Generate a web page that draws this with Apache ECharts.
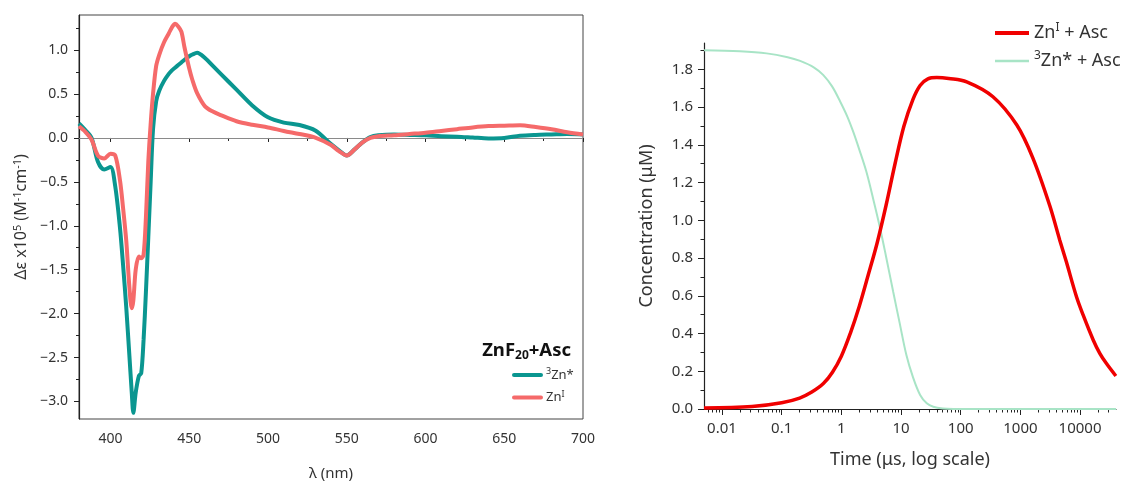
<!DOCTYPE html>
<html><head><meta charset="utf-8">
<script src="https://cdn.jsdelivr.net/npm/echarts@6/dist/echarts.min.js"></script>
<style>html,body{margin:0;padding:0;background:#fff}#c{width:1127px;height:482px}</style>
</head><body><div id="c"></div>
<script>
// ---- Left panel: difference spectra ----
const wavelength = [380,384,388,392,396,400,403,406,408,410,412,413.5,414.5,416,418,419.5,421,422.5,424,425.5,427,429,431,434,437,439,441,443,445,447,450,452,455,460,465,470,480,490,500,510,520,530,540,545,550,555,560,565,570,580,590,600,610,620,630,640,650,660,670,680,690,700];
const zn3Star    = [0.165,0.09,0.0,-0.27,-0.36,-0.33,-0.55,-1.02,-1.45,-1.93,-2.48,-2.9,-3.13,-2.9,-2.71,-2.68,-2.3,-1.75,-1.13,-0.5,0.1,0.42,0.54,0.65,0.73,0.77,0.8,0.83,0.86,0.89,0.93,0.95,0.97,0.91,0.82,0.73,0.55,0.37,0.235,0.175,0.147,0.085,-0.07,-0.14,-0.2,-0.13,-0.05,0.01,0.03,0.04,0.035,0.03,0.02,0.015,0.005,-0.005,0.0,0.025,0.035,0.04,0.045,0.04];
const znI        = [0.133,0.07,-0.02,-0.2,-0.235,-0.18,-0.2,-0.48,-0.8,-1.17,-1.7,-1.94,-1.85,-1.5,-1.35,-1.37,-1.33,-0.9,-0.27,0.16,0.5,0.82,0.95,1.09,1.19,1.26,1.3,1.27,1.21,1.03,0.79,0.66,0.51,0.36,0.3,0.26,0.19,0.15,0.12,0.08,0.045,0.005,-0.08,-0.15,-0.2,-0.13,-0.05,0.0,0.02,0.03,0.045,0.06,0.08,0.1,0.12,0.135,0.14,0.145,0.125,0.1,0.065,0.04];
const leftXMajor = [400,450,500,550,600,650,700];
const leftXMinor = [425,475,525,575,625,675];
const leftYMajor = [-3.0,-2.5,-2.0,-1.5,-1.0,-0.5,0.0,0.5,1.0];
const leftYMinor = [-2.75,-2.25,-1.75,-1.25,-0.75,-0.25,0.25,0.75,1.25];

// ---- Right panel: kinetics (log time) ----
const timeZnI   = [0.005,0.032,0.1,0.2,0.32,0.5,0.71,1,1.41,2,2.82,3.98,5.62,7.94,11.2,15.8,20.9,28.2,39.8,63,126,347,871,1620,3090,4570,5890,8710,11200,16600,21400,27500,39800];
const concZnI   = [0.005,0.013,0.033,0.058,0.09,0.135,0.195,0.28,0.40,0.545,0.71,0.88,1.08,1.30,1.50,1.64,1.715,1.75,1.757,1.752,1.734,1.655,1.505,1.33,1.08,0.895,0.78,0.595,0.5,0.366,0.295,0.242,0.175];
const time3Zn   = [0.005,0.02,0.056,0.126,0.204,0.35,0.5,0.7,0.955,1.26,1.58,2.0,2.63,3.5,4.47,5.6,7.41,9.5,12.3,15.8,20.9,27,34.7,50,76,200,40000];
const conc3Zn   = [1.902,1.896,1.885,1.865,1.845,1.81,1.77,1.71,1.63,1.55,1.47,1.375,1.257,1.1,0.957,0.81,0.62,0.455,0.286,0.17,0.074,0.03,0.012,0.003,0.0005,0,0];
const rightXMajor = [0.01,0.1,1,10,100,1000,10000];
const rightXMinor = [0.006,0.007,0.008,0.009,0.02,0.03,0.04,0.05,0.06,0.07,0.08,0.09,0.2,0.3,0.4,0.5,0.6,0.7,0.8,0.9,2,3,4,5,6,7,8,9,20,30,40,50,60,70,80,90,200,300,400,500,600,700,800,900,2000,3000,4000,5000,6000,7000,8000,9000,20000,30000];
const rightYMajor = [0.0,0.2,0.4,0.6,0.8,1.0,1.2,1.4,1.6,1.8];
const rightYMinor = [0.1,0.3,0.5,0.7,0.9,1.1,1.3,1.5,1.7,1.9];

const FONT = 'Noto Sans';
const TXT = '#333';
const AX = '#222';
const TEAL = '#0a9690';
const SALMON = '#f56a6a';
const RED = '#f00000';
const MINT = '#a8e4c6';

const chart = echarts.init(document.getElementById('c'));

const legendNames = {
  '3Zn*': '{sup|3}{t|Zn*}',
  'ZnI': '{t|Zn}{sup|I}',
  'ZnI + Asc': '{t|Zn}{sup|I}{t| + Asc}',
  '3Zn* + Asc': '{sup|3}{t|Zn* + Asc}'
};

function ax(lineShow){ return {show: lineShow, lineStyle:{color:AX, width:1.2}}; }

const option = {
  animation: false,
  backgroundColor: '#fff',
  textStyle: {fontFamily: FONT},
  title: {
    text: '{b|ZnF}{s|20}{b|+Asc}',
    right: 556, top: 340, padding: 0,
    textStyle: {
      rich: {
        b: {fontFamily: FONT, fontSize: 18.5, fontWeight: 'bold', color: '#111', lineHeight: 22},
        s: {fontFamily: FONT, fontSize: 12, fontWeight: 'bold', color: '#111', verticalAlign: 'bottom', lineHeight: 13}
      }
    }
  },
  legend: [
    {
      data: [{name: '3Zn*'}, {name: 'ZnI'}], orient: 'vertical', left: 512, top: 367, padding: 0,
      itemWidth: 27, itemHeight: 10, itemGap: 8,
      itemStyle: {opacity: 0},
      lineStyle: {width: 4, cap: 'round'},
      formatter: n => legendNames[n],
      textStyle: {rich: {
        t: {fontFamily: FONT, fontSize: 13, color: TXT, lineHeight: 16},
        sup: {fontFamily: FONT, fontSize: 9, color: TXT, verticalAlign: 'top', lineHeight: 10}
      }}
    },
    {
      data: [{name: 'ZnI + Asc', lineStyle: {width: 4}}, {name: '3Zn* + Asc', lineStyle: {width: 2.5}}],
      orient: 'vertical', left: 993, top: 22, padding: 0,
      itemWidth: 34, itemHeight: 14, itemGap: 8,
      itemStyle: {opacity: 0},
      formatter: n => legendNames[n],
      textStyle: {rich: {
        t: {fontFamily: FONT, fontSize: 18, color: TXT, lineHeight: 22},
        sup: {fontFamily: FONT, fontSize: 12, color: TXT, verticalAlign: 'top', lineHeight: 13}
      }}
    }
  ],
  grid: [
    {left: 79, top: 15, right: 544, bottom: 63, show: true, borderColor: '#444', borderWidth: 1, outerBoundsMode: 'none'},
    {left: 704, top: 43, right: 11, bottom: 73, outerBoundsMode: 'none'}
  ],
  xAxis: [
    {gridIndex: 0, type: 'value', min: 380, max: 700, position: 'bottom',
     axisLine: ax(true), splitLine: {show: false},
     axisTick: {show: true, customValues: leftXMajor, length: 4, lineStyle: {color: AX}},
     axisLabel: {customValues: leftXMajor, fontSize: 14, color: TXT, margin: 13, fontFamily: FONT},
     name: 'λ (nm)', nameLocation: 'middle', nameGap: 47, nameMoveOverlap: false,
     nameTextStyle: {fontSize: 15, color: TXT, fontFamily: FONT}},
    {gridIndex: 0, type: 'value', min: 380, max: 700, position: 'bottom',
     axisLine: {show: false}, splitLine: {show: false}, axisLabel: {show: false},
     axisTick: {show: true, customValues: leftXMinor, length: 3, lineStyle: {color: AX}}},
    {gridIndex: 1, type: 'log', logBase: 10, min: 0.005, max: 40000, position: 'bottom',
     axisLine: ax(true), splitLine: {show: false}, minorTick: {show: false},
     axisTick: {show: true, customValues: rightXMajor, length: 6, lineStyle: {color: AX}},
     axisLabel: {customValues: rightXMajor, fontSize: 15, color: TXT, margin: 12, fontFamily: FONT,
                 formatter: v => String(+(+v).toPrecision(6))},
     name: 'Time (μs, log scale)', nameLocation: 'middle', nameGap: 42, nameMoveOverlap: false,
     nameTextStyle: {fontSize: 18, color: TXT, fontFamily: FONT}},
    {gridIndex: 1, type: 'log', logBase: 10, min: 0.005, max: 40000, position: 'bottom',
     axisLine: {show: false}, splitLine: {show: false}, axisLabel: {show: false},
     axisTick: {show: true, customValues: rightXMinor, length: 3.5, lineStyle: {color: AX}}}
  ],
  yAxis: [
    {gridIndex: 0, type: 'value', min: -3.2, max: 1.4, position: 'left',
     axisLine: ax(true), splitLine: {show: false},
     axisTick: {show: true, customValues: leftYMajor, length: 5, lineStyle: {color: AX}},
     axisLabel: {customValues: leftYMajor, fontSize: 14, color: TXT, margin: 11, fontFamily: FONT,
                 formatter: v => (v < 0 ? '\u2212' : '') + Math.abs(v).toFixed(1)},
     name: '{a|Δε x10}{s|5}{a| (M}{s|-1}{a|cm}{s|-1}{a|)}', nameLocation: 'middle', nameGap: 48, nameRotate: 90,
     nameMoveOverlap: false,
     nameTextStyle: {rich: {
       a: {fontSize: 16, color: TXT, fontFamily: FONT, lineHeight: 19},
       s: {fontSize: 11, color: TXT, fontFamily: FONT, verticalAlign: 'top', lineHeight: 12}
     }}},
    {gridIndex: 0, type: 'value', min: -3.2, max: 1.4, position: 'left',
     axisLine: {show: false}, splitLine: {show: false}, axisLabel: {show: false},
     axisTick: {show: true, customValues: leftYMinor, length: 3, lineStyle: {color: AX}}},
    {gridIndex: 1, type: 'value', min: 0, max: 1.94, position: 'left',
     axisLine: ax(true), splitLine: {show: false},
     axisTick: {show: true, customValues: rightYMajor, length: 6, lineStyle: {color: AX}},
     axisLabel: {customValues: rightYMajor, fontSize: 15, color: TXT, margin: 11, fontFamily: FONT,
                 formatter: v => (+v).toFixed(1)},
     name: 'Concentration (μM)', nameLocation: 'middle', nameGap: 48, nameRotate: 90, nameMoveOverlap: false,
     nameTextStyle: {fontSize: 18, color: TXT, fontFamily: FONT}},
    {gridIndex: 1, type: 'value', min: 0, max: 1.94, position: 'left',
     axisLine: {show: false}, splitLine: {show: false}, axisLabel: {show: false},
     axisTick: {show: true, customValues: rightYMinor, length: 3.5, lineStyle: {color: AX}}}
  ],
  series: [
    {name: '3Zn*', type: 'line', xAxisIndex: 0, yAxisIndex: 0, symbol: 'none', smooth: 0.3,
     data: wavelength.map((w, i) => [w, zn3Star[i]]),
     lineStyle: {width: 4, color: TEAL}, itemStyle: {color: TEAL},
     markLine: {z: 1, silent: true, symbol: ['none', 'none'], label: {show: false},
                lineStyle: {color: '#8a8a8a', width: 1, type: 'solid'}, data: [{yAxis: 0}]}},
    {name: 'ZnI', type: 'line', xAxisIndex: 0, yAxisIndex: 0, symbol: 'none', smooth: 0.3,
     data: wavelength.map((w, i) => [w, znI[i]]),
     lineStyle: {width: 4, color: SALMON}, itemStyle: {color: SALMON}},
    {name: '3Zn* + Asc', type: 'line', xAxisIndex: 2, yAxisIndex: 2, symbol: 'none', smooth: 0.35,
     data: time3Zn.map((t, i) => [t, conc3Zn[i]]),
     lineStyle: {width: 2, color: MINT}, itemStyle: {color: MINT}},
    {name: 'ZnI + Asc', type: 'line', xAxisIndex: 2, yAxisIndex: 2, symbol: 'none', smooth: 0.35,
     data: timeZnI.map((t, i) => [t, concZnI[i]]),
     lineStyle: {width: 3.5, color: RED}, itemStyle: {color: RED}}
  ]
};
chart.setOption(option);
</script></body></html>
